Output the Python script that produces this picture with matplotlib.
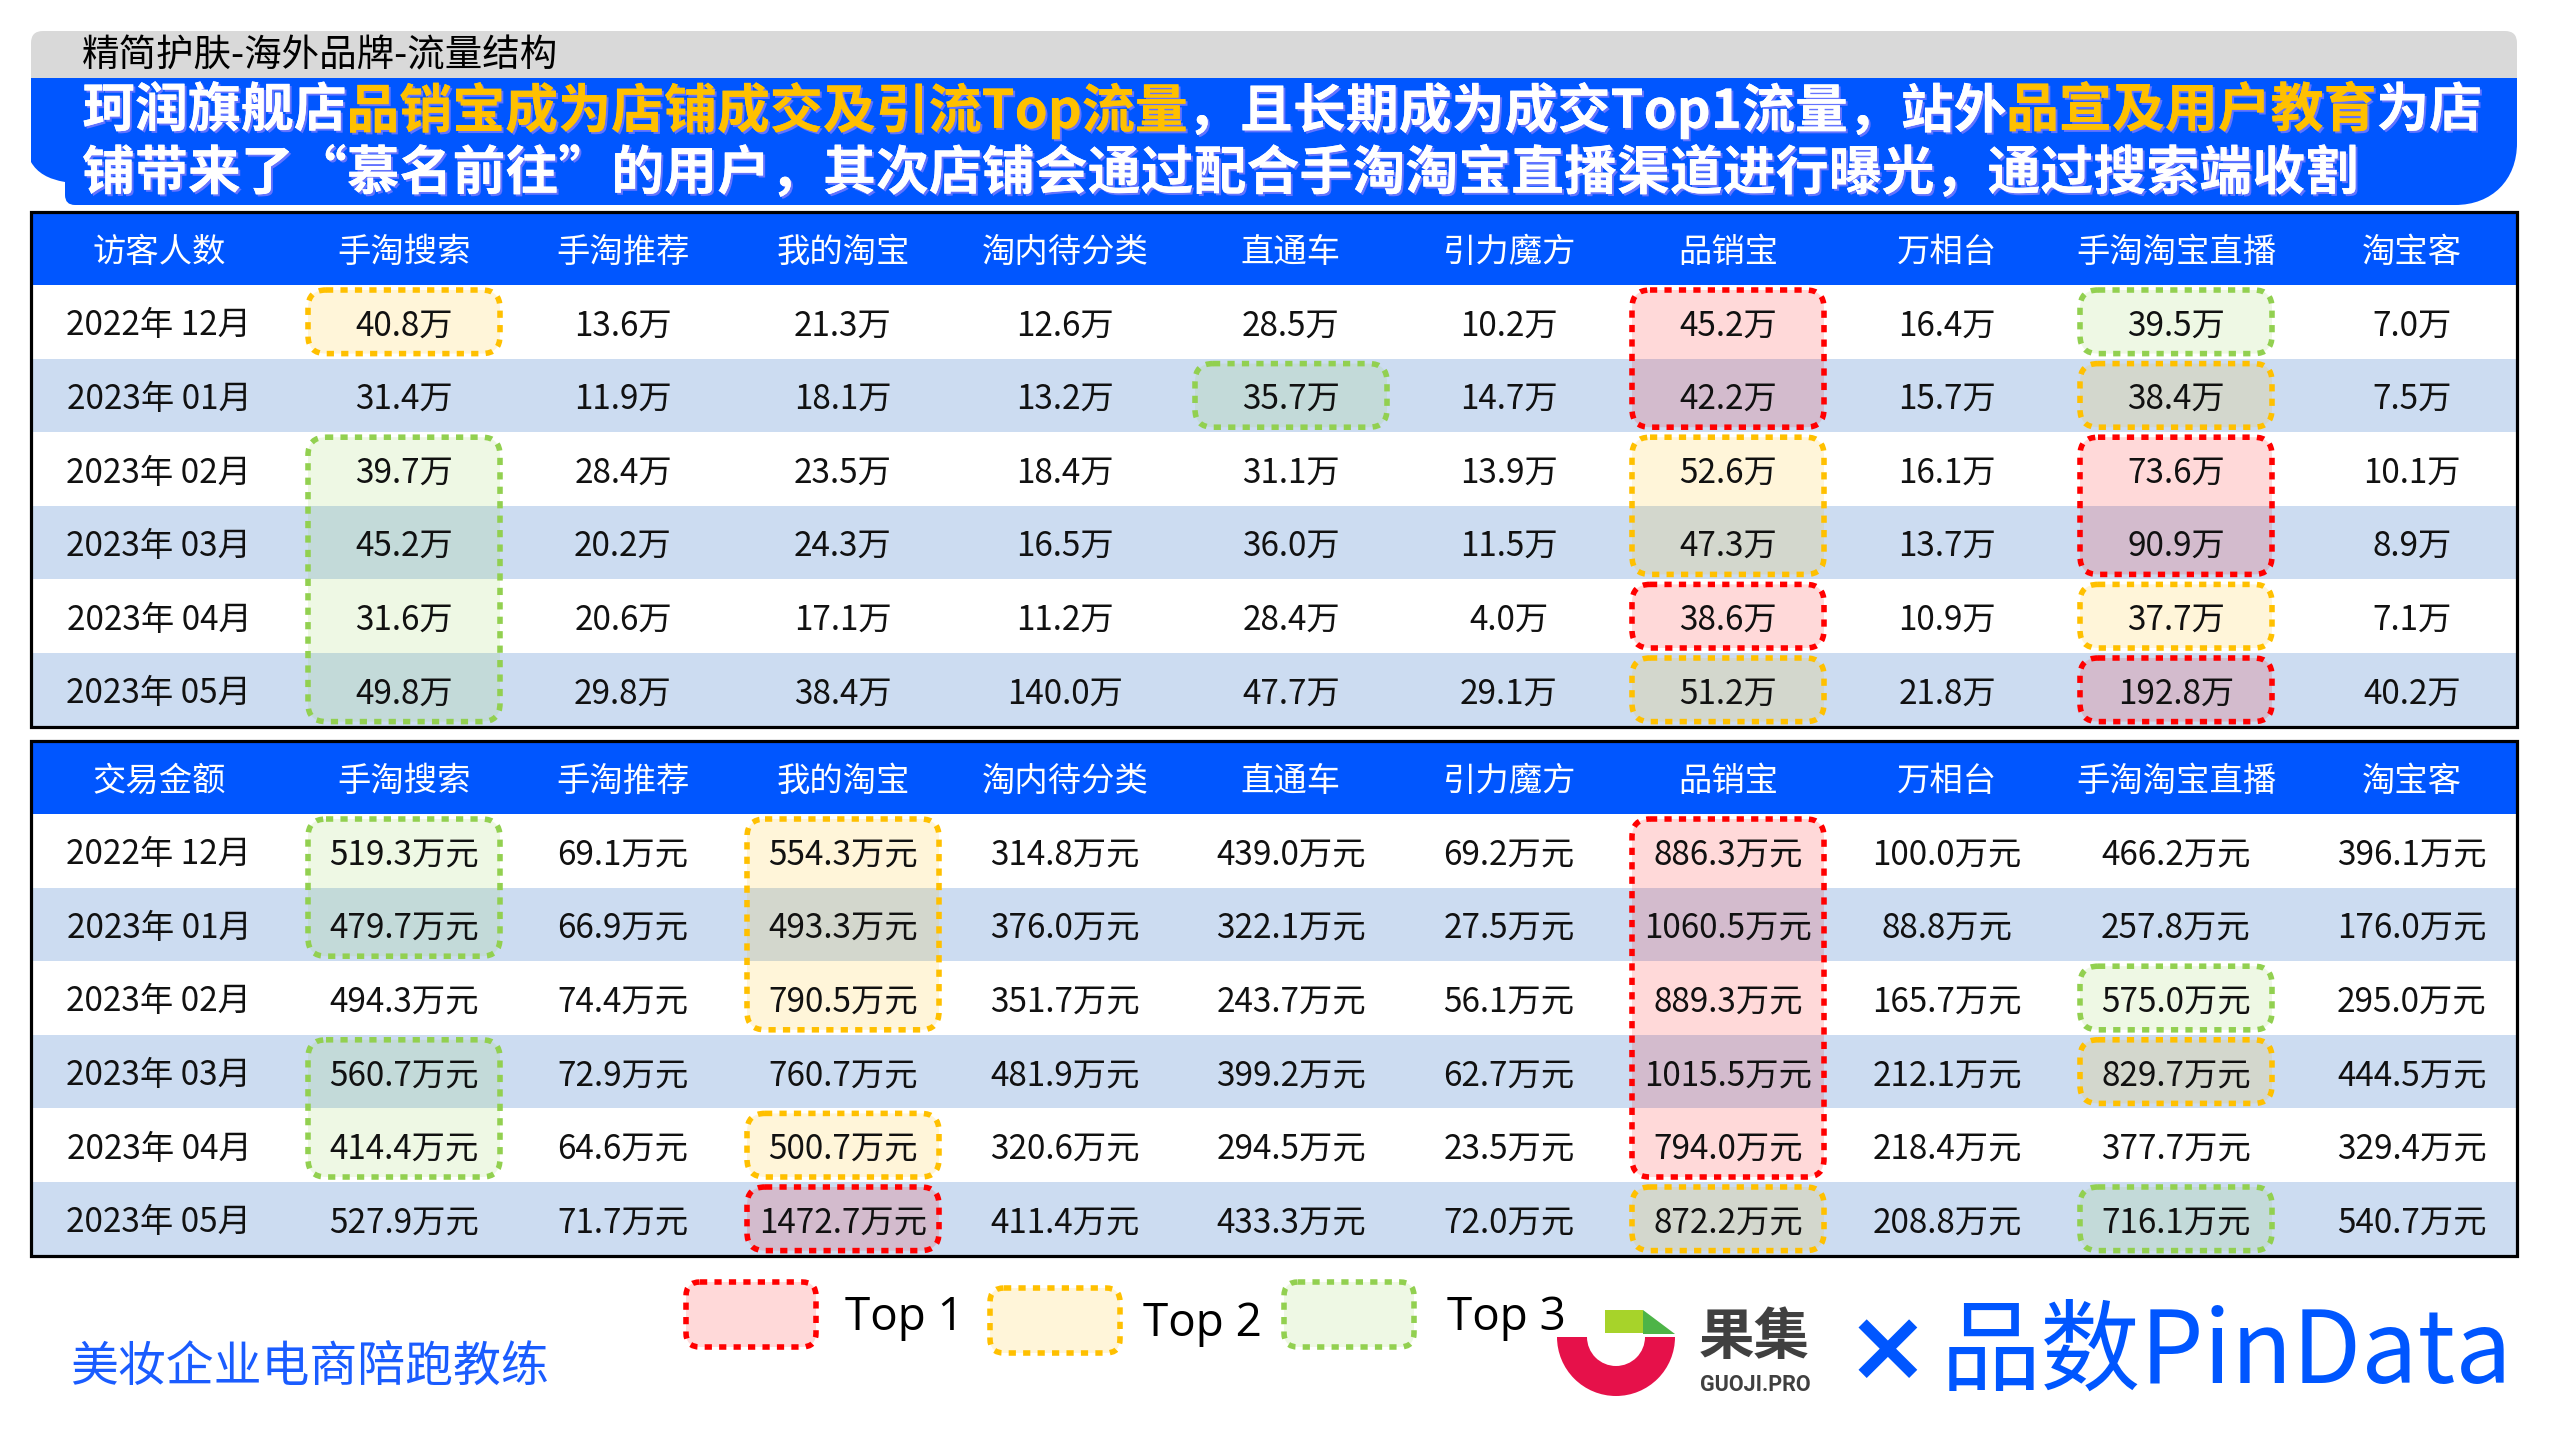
import matplotlib
matplotlib.use('Agg')
import matplotlib.pyplot as plt
from matplotlib.patches import FancyBboxPatch, Rectangle, PathPatch, Wedge, Polygon
from matplotlib.path import Path
from matplotlib.colors import to_rgba
import matplotlib.patheffects as pe

plt.rcParams['font.family'] = ['Noto Sans CJK SC', 'DejaVu Sans']

# ---------------- data ----------------
page_title = "精简护肤-海外品牌-流量结构"
headline_1 = [("珂润旗舰店", "w"), ("品销宝成为店铺成交及引流Top流量", "y"),
              ("，且长期成为成交Top1流量，站外", "w"), ("品宣及用户教育", "y"), ("为店", "w")]
headline_2 = [("铺带来了“慕名前往”的用户，其次店铺会通过配合手淘淘宝直播渠道进行曝光，通过搜索端收割", "w")]

channels = ['手淘搜索', '手淘推荐', '我的淘宝', '淘内待分类', '直通车', '引力魔方',
            '品销宝', '万相台', '手淘淘宝直播', '淘宝客']
months = ['2022年 12月', '2023年 01月', '2023年 02月', '2023年 03月', '2023年 04月', '2023年 05月']

# 访客人数 (万), one list per channel, months in order
visitors = {
    '手淘搜索':   [40.8, 31.4, 39.7, 45.2, 31.6, 49.8],
    '手淘推荐':   [13.6, 11.9, 28.4, 20.2, 20.6, 29.8],
    '我的淘宝':   [21.3, 18.1, 23.5, 24.3, 17.1, 38.4],
    '淘内待分类': [12.6, 13.2, 18.4, 16.5, 11.2, 140.0],
    '直通车':     [28.5, 35.7, 31.1, 36.0, 28.4, 47.7],
    '引力魔方':   [10.2, 14.7, 13.9, 11.5, 4.0, 29.1],
    '品销宝':     [45.2, 42.2, 52.6, 47.3, 38.6, 51.2],
    '万相台':     [16.4, 15.7, 16.1, 13.7, 10.9, 21.8],
    '手淘淘宝直播': [39.5, 38.4, 73.6, 90.9, 37.7, 192.8],
    '淘宝客':     [7.0, 7.5, 10.1, 8.9, 7.1, 40.2],
}
# 交易金额 (万元)
trade = {
    '手淘搜索':   [519.3, 479.7, 494.3, 560.7, 414.4, 527.9],
    '手淘推荐':   [69.1, 66.9, 74.4, 72.9, 64.6, 71.7],
    '我的淘宝':   [554.3, 493.3, 790.5, 760.7, 500.7, 1472.7],
    '淘内待分类': [314.8, 376.0, 351.7, 481.9, 320.6, 411.4],
    '直通车':     [439.0, 322.1, 243.7, 399.2, 294.5, 433.3],
    '引力魔方':   [69.2, 27.5, 56.1, 62.7, 23.5, 72.0],
    '品销宝':     [886.3, 1060.5, 889.3, 1015.5, 794.0, 872.2],
    '万相台':     [100.0, 88.8, 165.7, 212.1, 218.4, 208.8],
    '手淘淘宝直播': [466.2, 257.8, 575.0, 829.7, 377.7, 716.1],
    '淘宝客':     [396.1, 176.0, 295.0, 444.5, 329.4, 540.7],
}
# highlighted rank per cell (0 = none), rows = months, cols = channels
visitor_rank = [
    [2, 0, 0, 0, 0, 0, 1, 0, 3, 0],
    [0, 0, 0, 0, 3, 0, 1, 0, 2, 0],
    [3, 0, 0, 0, 0, 0, 2, 0, 1, 0],
    [3, 0, 0, 0, 0, 0, 2, 0, 1, 0],
    [3, 0, 0, 0, 0, 0, 1, 0, 2, 0],
    [3, 0, 0, 0, 0, 0, 2, 0, 1, 0],
]
trade_rank = [
    [3, 0, 2, 0, 0, 0, 1, 0, 0, 0],
    [3, 0, 2, 0, 0, 0, 1, 0, 0, 0],
    [0, 0, 2, 0, 0, 0, 1, 0, 3, 0],
    [3, 0, 0, 0, 0, 0, 1, 0, 2, 0],
    [3, 0, 2, 0, 0, 0, 1, 0, 0, 0],
    [0, 0, 1, 0, 0, 0, 2, 0, 3, 0],
]
legend_labels = ['Top 1', 'Top 2', 'Top 3']
footer_text = "美妆企业电商陪跑教练"

# ---------------- styles / layout ----------------
BLUE = '#0056FF'
LIGHT = '#CCDCF1'
GRAY = '#D9D9D9'
ORANGE = '#FFC000'
RANK_COLORS = {1: '#FF0000', 2: '#FFC000', 3: '#92D050'}

W, H = 2560, 1440
fig = plt.figure(figsize=(25.6, 14.4), dpi=100)
ax = fig.add_axes([0, 0, 1, 1])
ax.set_xlim(0, W)
ax.set_ylim(H, 0)
ax.axis('off')
renderer = fig.canvas.get_renderer()

X0, X1 = 31, 2517
col_x = [159, 404, 623, 843, 1065, 1291, 1509, 1728, 1947, 2176, 2412]
BOX_HALF = 96
HEAD_H = 73
ROW_H = 73.6
CELL_FS = 24
TXT_DY = 4  # optical vertical centring of CJK text


def dotted_box(x, y, w, h, color, rs=18, z=3):
    p = FancyBboxPatch((x, y), w, h, boxstyle=f'round,pad=0,rounding_size={rs}',
                       fc=to_rgba(color, 0.15), ec=color, lw=4.0,
                       ls=(0, (1.3, 1.3)), zorder=z)
    p.set_capstyle('butt')
    ax.add_patch(p)


# ---------------- header bars ----------------
ax.add_patch(FancyBboxPatch((X0, 31), X1 - X0, 70, boxstyle='round,pad=0,rounding_size=12',
                            fc=GRAY, ec='none', zorder=1))
ax.text(82, 56, page_title, fontsize=27, color='black', va='center', ha='left', zorder=2)

verts = [(31, 78), (2517, 78), (2517, 143),
         (2517, 180), (2492, 205), (2455, 205),
         (75, 205),
         (65, 205), (65, 195),
         (65, 182),
         (40, 178), (31, 162),
         (31, 78), (31, 78)]
codes = [Path.MOVETO, Path.LINETO, Path.LINETO,
         Path.CURVE4, Path.CURVE4, Path.CURVE4,
         Path.LINETO,
         Path.CURVE3, Path.CURVE3,
         Path.LINETO,
         Path.CURVE3, Path.CURVE3,
         Path.LINETO, Path.CLOSEPOLY]
ax.add_patch(PathPatch(Path(verts, codes), fc=BLUE, ec='none', zorder=2))

TITLE_WEIGHT = 'heavy'


def draw_segments(segments, x, y, fs):
    shadow = [pe.withSimplePatchShadow(offset=(1.5, -1.5), shadow_rgbFace='#8f80ff', alpha=0.7),
              pe.Normal()]
    for s, c in segments:
        t = ax.text(x, y, s, fontsize=fs, fontweight=TITLE_WEIGHT, va='center', ha='left',
                    color=('white' if c == 'w' else ORANGE), zorder=4, path_effects=shadow)
        bb = t.get_window_extent(renderer)
        x += bb.width
    return x


# measure & fit headline line 1 to target width
probe = ax.text(0, 0, ''.join(s for s, _ in headline_1), fontsize=36, fontweight=TITLE_WEIGHT)
wprobe = probe.get_window_extent(renderer).width
probe.remove()
title_fs = 36 * (2402 / wprobe)
draw_segments(headline_1, 82, 111, title_fs)
draw_segments(headline_2, 82, 174, title_fs)


# ---------------- tables ----------------
def draw_table(top, corner, data, ranks, unit):
    ax.add_patch(Rectangle((X0, top), X1 - X0, HEAD_H, fc=BLUE, ec='none', zorder=1))
    ax.text(col_x[0], top + HEAD_H / 2 + TXT_DY, corner, fontsize=CELL_FS, color='white',
            ha='center', va='center', zorder=5)
    for j, ch in enumerate(channels):
        ax.text(col_x[j + 1], top + HEAD_H / 2 + TXT_DY, ch, fontsize=CELL_FS, color='white',
                ha='center', va='center', zorder=5)
    for i, m in enumerate(months):
        y0 = top + HEAD_H + i * ROW_H
        ax.add_patch(Rectangle((X0, y0), X1 - X0, ROW_H, fc=('white' if i % 2 == 0 else LIGHT),
                               ec='none', zorder=1))
        ax.text(col_x[0], y0 + ROW_H / 2 + TXT_DY, m, fontsize=CELL_FS, color='#111111',
                ha='center', va='center', zorder=5)
        for j, ch in enumerate(channels):
            ax.text(col_x[j + 1], y0 + ROW_H / 2 + TXT_DY, f"{data[ch][i]:.1f}{unit}",
                    fontsize=CELL_FS, color='#111111', ha='center', va='center', zorder=5)
    # highlight boxes (merge consecutive equal ranks in a column)
    for j in range(len(channels)):
        i = 0
        while i < len(months):
            r = ranks[i][j]
            if r == 0:
                i += 1
                continue
            k = i
            while k + 1 < len(months) and ranks[k + 1][j] == r:
                k += 1
            y0 = top + HEAD_H + i * ROW_H + 5
            h = (k - i + 1) * ROW_H - 10
            dotted_box(col_x[j + 1] - BOX_HALF, y0, 2 * BOX_HALF, h, RANK_COLORS[r])
            i = k + 1
    bottom = top + HEAD_H + len(months) * ROW_H
    ax.add_patch(Rectangle((X0, top), X1 - X0, bottom - top, fc='none', ec='black',
                           lw=2.3, zorder=6))


draw_table(212, '访客人数', visitors, visitor_rank, '万')
draw_table(741, '交易金额', trade, trade_rank, '万元')

# ---------------- legend ----------------
leg_box_x = [686, 990, 1284]
leg_box_y = [1282, 1288, 1282]
leg_txt_x = [845, 1143, 1447]
for r, (lab, bx, by, tx) in enumerate(zip(legend_labels, leg_box_x, leg_box_y, leg_txt_x), start=1):
    dotted_box(bx, by, 130, 65, RANK_COLORS[r], rs=14)
    ax.text(tx, by + 36, lab, fontsize=33, color='black', ha='left', va='center',
            family=['Open Sans', 'DejaVu Sans'])

ax.text(70, 1368, footer_text, fontsize=34.5, color='#1A5CFF', ha='left', va='center')

# ---------------- logos ----------------
ax.add_patch(Wedge((1616, 1337), 59, 0, 180, width=30, fc='#E6114A', ec='none'))
ax.add_patch(Rectangle((1605, 1310), 38, 23, fc='#A7D32A', ec='none'))
ax.add_patch(Polygon([(1643, 1310), (1675, 1334), (1643, 1334)], closed=True, fc='#4DB447', ec='none'))
ax.text(1699, 1338, '果集', fontsize=40, fontweight='bold', color='#404040', ha='left', va='center')
ax.text(1700, 1385, 'GUOJI.PRO', fontsize=15.5, fontweight='bold', color='#404040', ha='left',
        va='center', family=['Roboto', 'DejaVu Sans'])
ax.text(1887, 1352, '×', fontsize=72, fontweight='bold', color=BLUE, ha='center', va='center',
        family=['DejaVu Sans'])
probe = ax.text(0, 0, '品数PinData', fontsize=70)
wp = probe.get_window_extent(renderer).width
probe.remove()
ax.text(1941, 1354, '品数PinData', fontsize=70 * 572 / wp, color=BLUE, ha='left', va='center')

fig.savefig('out.png', dpi=100)
